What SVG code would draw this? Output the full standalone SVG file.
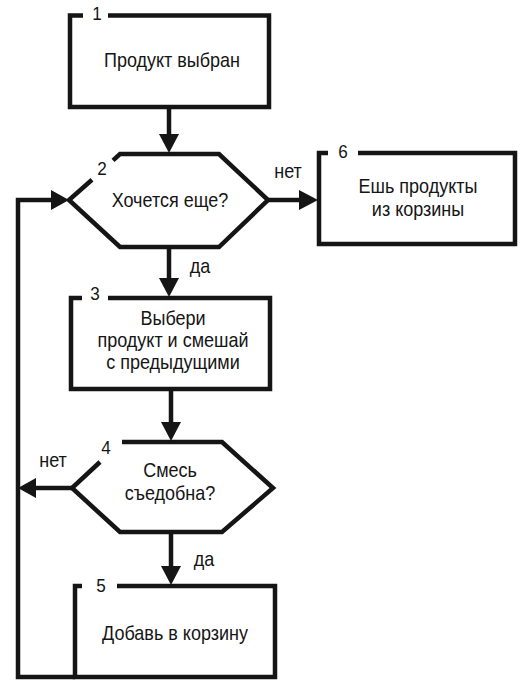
<svg xmlns="http://www.w3.org/2000/svg" width="530" height="692" viewBox="0 0 530 692">
<style>
  .shape { fill: none; stroke: #151515; stroke-width: 4.5; stroke-linejoin: miter; stroke-linecap: butt; }
  .line { fill: none; stroke: #151515; stroke-width: 4.5; stroke-linejoin: miter; }
  .head { fill: #151515; stroke: none; }
  text { font-family: "Liberation Sans", Arial, sans-serif; font-size: 20px; fill: #151515; text-anchor: middle; }
  .num { font-size: 19px; }
</style>
<rect width="530" height="692" fill="#ffffff"/>

<g id="node1">
  <path class="shape" d="M108,15.5 H269 V107 H70 V15.5 H83"/>
  <text class="num" transform="matrix(0.9 0 0 1 97 20)">1</text>
  <text transform="matrix(0.9 0 0 1 172 67)">Продукт выбран</text>
</g>

<g id="node2">
  <path class="shape" d="M113,160.4 L120,154 H219 L268,200 L219,247 H120 L69,200 L92,179.8"/>
  <text class="num" transform="matrix(0.9 0 0 1 102 175)">2</text>
  <text transform="matrix(0.9 0 0 1 170 207)">Хочется еще?</text>
</g>

<g id="node3">
  <path class="shape" d="M108,298 H270 V389 H71 V298 H82"/>
  <text class="num" transform="matrix(0.9 0 0 1 95 300)">3</text>
  <text transform="matrix(0.9 0 0 1 173 325)">Выбери</text>
  <text transform="matrix(0.9 0 0 1 173 347)">продукт и смешай</text>
  <text transform="matrix(0.9 0 0 1 173 369)">с предыдущими</text>
</g>

<g id="node4">
  <path class="shape" d="M122,442 H222 L273,488 L222,532 H120 L72,488 L100,462"/>
  <text class="num" transform="matrix(0.9 0 0 1 106 454)">4</text>
  <text transform="matrix(0.9 0 0 1 170 477)">Смесь</text>
  <text transform="matrix(0.9 0 0 1 170 500)">съедобна?</text>
</g>

<g id="node5">
  <path class="shape" d="M117,586 H275 V677 H75 V586 H82"/>
  <text class="num" transform="matrix(0.9 0 0 1 101 592)">5</text>
  <text transform="matrix(0.9 0 0 1 175 640)">Добавь в корзину</text>
</g>

<g id="node6">
  <path class="shape" d="M358,153 H515 V244 H319 V153 H328"/>
  <text class="num" transform="matrix(0.9 0 0 1 343 158)">6</text>
  <text transform="matrix(0.9 0 0 1 418 193)">Ешь продукты</text>
  <text transform="matrix(0.9 0 0 1 418 216)">из корзины</text>
</g>

<g id="connectors">
  <!-- 1 -> 2 -->
  <line class="line" x1="169" y1="107" x2="169" y2="137"/>
  <polygon class="head" points="159,134 179,134 169,153"/>
  <!-- 2 -> 3 (да) -->
  <line class="line" x1="169" y1="247" x2="169" y2="281"/>
  <polygon class="head" points="159,278 179,278 169,297"/>
  <text transform="matrix(0.9 0 0 1 200 273)">да</text>
  <!-- 3 -> 4 -->
  <line class="line" x1="171" y1="389" x2="171" y2="425"/>
  <polygon class="head" points="161,422 181,422 171,441"/>
  <!-- 4 -> 5 (да) -->
  <line class="line" x1="171" y1="532" x2="171" y2="569"/>
  <polygon class="head" points="161,566 181,566 171,585"/>
  <text transform="matrix(0.9 0 0 1 204 566)">да</text>
  <!-- 2 -> 6 (нет) -->
  <line class="line" x1="268" y1="200" x2="302" y2="200"/>
  <polygon class="head" points="299,190 299,210 318,200"/>
  <text transform="matrix(0.9 0 0 1 288 178)">нет</text>
  <!-- 4 -> loop (нет) -->
  <line class="line" x1="72" y1="488" x2="33" y2="488"/>
  <polygon class="head" points="36,478 36,498 18,488"/>
  <text transform="matrix(0.9 0 0 1 53 467)">нет</text>
  <!-- loop back: 5 -> 2 -->
  <path class="line" d="M75,677 H18 V200 H54"/>
  <polygon class="head" points="51,190 51,210 69,200"/>
</g>
</svg>
